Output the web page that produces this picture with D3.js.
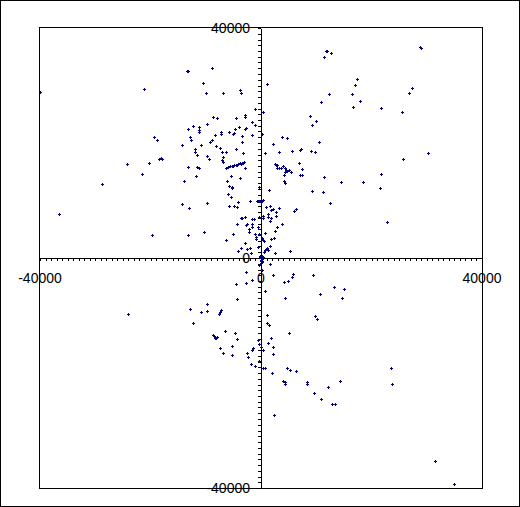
<!DOCTYPE html>
<html>
<head>
<meta charset="utf-8">
<script src="https://cdn.jsdelivr.net/npm/d3@7"></script>
<style>
  html, body { margin: 0; padding: 0; background: #fff; }
  svg { display: block; }
  text { font-family: Arial, "Liberation Sans", sans-serif; font-size: 14px; fill: #000; }
</style>
</head>
<body>
<svg id="chart" width="520" height="507"></svg>
<script>
// points, [x, y]
const upperLeft = [
  [-40000, 28870], [-13450, 32470], [-13210, 32570], [-8810, 32990], [-21120, 29340], [-10440, 30380],
  [-9900, 28640], [-6820, 28640], [-3750, 29160], [-3570, 28640], [-1030, 25910], [-2840, 24920],
  [-2840, 24470], [-8630, 24470], [-7910, 24290], [-4470, 24290], [-9720, 23250], [-1570, 23600],
  [-1030, 23180], [-13160, 22380], [-12250, 22900], [-11170, 22730], [-11170, 22260], [-11170, 21860],
  [-4650, 22380], [-3930, 22730], [-2660, 22550], [-2840, 22380], [-7190, 21860], [-7190, 21510],
  [-5740, 21860], [-4830, 21690], [-5010, 21510], [-3380, 21160], [-1570, 21340], [-8270, 21340],
  [-19310, 20990], [-18770, 20470], [-12800, 20990], [-12620, 20470], [-8810, 20470], [-9180, 20120],
  [-3380, 20120], [-14240, 19600], [-10810, 19600], [-8090, 19420], [-7370, 19080], [-11890, 18900],
  [-11890, 18380], [-4470, 18900], [-7000, 18380], [-6280, 18380], [-3200, 18210], [-11530, 17860],
  [-9720, 17690], [-9360, 17160], [-6820, 17510], [-7000, 16990], [-6820, 16640], [-18410, 17160],
  [-18050, 17340], [-17860, 17160], [-20220, 16470], [-24200, 16290],
  [-2840, 15600], [-13160, 15770], [-11530, 15770], [-11170, 15600], [-5380, 14210], [-3750, 13860],
  [-11710, 14210], [-21480, 14560], [-28720, 12820], [-13880, 13340], [-6100, 13340], [-5740, 12470],
  [-5190, 12290], [-5190, 12120], [-5920, 11080], [-5380, 10560], [-310, 12290], [-1940, 9860],
  [-4110, 9690], [-14240, 9340], [-12980, 8640], [-9720, 9510], [-5740, 8990], [-4830, 8990],
  [-4290, 8820], [-3570, 6900], [-3380, 6900], [-2840, 7080], [-1570, 6730], [-1210, 6730],
  [-1570, 5860], [-1570, 5340], [-2480, 5860], [-2660, 5690], [-4290, 5860], [-2120, 4990],
  [-2120, 4470], [-310, 7080], [-490, 5340], [-1030, 4120], [-310, 4120], [-850, 3600],
  [-850, 3250], [-5010, 4120], [-6280, 3080], [-19670, 3950], [-13160, 3950], [-10260, 4470],
  [-36510, 7600], [-2840, 2560], [-3570, 1690], [-4110, 1170], [-2480, 1510], [-1940, 1690],
  [-1760, 820], [-490, 1860], [-720, 9910], [-540, 9910], [-310, 9860], [-180, 9910]
];

// the dense diagonal streak left of the axis
const streak = [
  [-6280, 15600], [-5920, 15770], [-5560, 15950], [-5190, 16050], [-4830, 16120], [-4470, 16220],
  [-4110, 16350], [-3750, 16470], [-3380, 16570], [-3020, 16640], [-3200, 16470], [-3570, 16400],
  [-4290, 16170], [-5010, 16000]
];

const upperRight = [
  [28830, 36640], [29010, 36470], [11820, 35940], [12000, 35940], [12720, 35600], [11460, 34900],
  [1140, 30210], [17430, 31080], [17070, 30030], [27390, 29510], [26840, 28640], [12360, 28470],
  [16530, 28470], [17970, 27250], [10910, 27080], [16710, 26210], [21770, 26030], [25580, 25340],
  [420, 25340], [8920, 24640], [10010, 23770], [9290, 23080], [240, 21510], [3860, 20990],
  [4760, 20820], [2230, 19770], [10550, 20120], [780, 18210], [3310, 18380], [5670, 18560],
  [7110, 18730], [7290, 18900], [9100, 18560], [9830, 18380], [30280, 18210], [25760, 17160],
  [2590, 16290], [2770, 16120], [2950, 16120], [2950, 15600], [3310, 15600], [3670, 15600],
  [4040, 15950], [4400, 15600], [4580, 15250], [4760, 15080], [5120, 15250], [5480, 14900],
  [4400, 14900], [6930, 16470], [7480, 15420], [7110, 14380], [7480, 14380], [4220, 14380],
  [4220, 13340], [4400, 12990], [11460, 14030], [21770, 14560], [14530, 13160], [18520, 13160],
  [21590, 12120], [1500, 11770], [9290, 11600], [11280, 11430], [12540, 9510], [420, 10030],
  [240, 9860], [50, 9690], [960, 8820], [1680, 8990], [1860, 8300], [2230, 8470],
  [3310, 8640], [2770, 7950], [6390, 8470], [6030, 8120], [420, 7250], [420, 6900],
  [1320, 7600], [1320, 7080], [1860, 6900], [2770, 7250], [1680, 6380], [3860, 5860],
  [2950, 5340], [22860, 6210], [2590, 4640], [780, 4300], [240, 3430], [420, 3080],
  [600, 2900], [1860, 3250], [2410, 3430], [1680, 2030], [960, 1510], [1140, 1690],
  [1320, 1340], [780, 1340], [5300, 1170], [2590, 820], [600, 990], [240, 300]
];

const lowerHalf = [
  [50, -300], [240, -470], [-130, -990], [-310, -1170], [1680, -1100], [240, -2140],
  [-2660, -2490], [2230, -3010], [5850, -2830], [5670, -3360], [9470, -3010], [4940, -4050],
  [4220, -4230], [-1570, -3880], [-2660, -4400], [-4470, -4570], [13270, -5100], [15080, -5440],
  [780, -5790], [10730, -6310], [4400, -7010], [14720, -7010], [-4290, -7180], [-9720, -8050],
  [-12800, -8920], [-10810, -9440], [-9720, -9270], [-7190, -9100], [-7370, -9440], [-7550, -9790],
  [-24020, -9790], [-12250, -11360], [1140, -9960], [9720, -10140], [10190, -10660], [1140, -11360],
  [1500, -11700], [-6460, -12750], [-4650, -13090], [5120, -13090], [-8630, -13440], [-8450, -13620],
  [-8270, -13790], [-8090, -13960], [-7910, -13790], [-8270, -13960], [-4290, -14140], [-490, -14310],
  [1860, -13960], [1320, -14830], [-310, -15010], [-7370, -15700], [-5190, -15360], [2230, -15530],
  [-1390, -15700], [-1570, -16050], [50, -15530], [420, -16050], [-6820, -16570], [-5190, -16920],
  [-2480, -16570], [-2300, -17270], [2230, -16750], [-310, -17960], [-1760, -18490], [-1030, -18830],
  [420, -19180], [780, -19180], [4760, -19180], [5300, -19530], [6390, -19700], [23580, -19180],
  [2050, -20050], [4040, -21440], [4400, -21620], [4400, -21960], [8380, -21620], [8380, -21960],
  [14350, -21440], [23770, -21960], [12180, -22490], [9650, -23530], [10910, -24570], [12910, -25440],
  [13450, -25440], [2410, -27350], [31550, -35350], [34990, -39350]
];

const nearOrigin = [
  [0, 0], [180, -170], [-180, 170], [0, -520], [180, -700], [-180, 350], [350, 170]
];

const xLabels = [-40000, 0, 40000];
const yLabels = [40000, 0, -40000];

const svg = d3.select('#chart');
const W = 520;
const H = 507;
const plotLeft = 40;
const plotRight = 482;
const plotTop = 28;
const plotBottom = 488;

const x = d3.scaleLinear().domain([-40000, 40000]).range([plotLeft, plotRight]);
const y = d3.scaleLinear().domain([-40000, 40000]).range([plotBottom, plotTop]);
// rounded copies so the small ticks stay crisp
const xr = x.copy().interpolate(d3.interpolateRound);
const yr = y.copy().interpolate(d3.interpolateRound);

// outer frame
svg.append('rect')
    .attr('x', 0.5).attr('y', 0.5)
    .attr('width', W - 1).attr('height', H - 1)
    .attr('fill', '#fff').attr('stroke', '#000');

// plot box
svg.append('rect')
    .attr('x', plotLeft - 0.5).attr('y', plotTop - 0.5)
    .attr('width', plotRight - plotLeft + 1).attr('height', plotBottom - plotTop + 1)
    .attr('fill', 'none').attr('stroke', '#000')
    .attr('shape-rendering', 'crispEdges');

const ticks = d3.range(-40000, 40001, 1000);

svg.append('g')
    .attr('transform', `translate(0,${yr(0)})`)
    .attr('shape-rendering', 'crispEdges')
    .call(d3.axisBottom(xr).tickValues(ticks).tickSize(3).tickSizeOuter(0).tickFormat(''))
    .call((g) => g.selectAll('path, line').attr('stroke', '#000'));

svg.append('g')
    .attr('transform', `translate(${xr(0)},0)`)
    .attr('shape-rendering', 'crispEdges')
    .call(d3.axisLeft(yr).tickValues(ticks).tickSize(3).tickSizeOuter(0).tickFormat(''))
    .call((g) => g.selectAll('path, line').attr('stroke', '#000'));

// labels
svg.append('g').selectAll('text')
    .data(xLabels)
    .join('text')
    .attr('x', (d) => x(d))
    .attr('y', y(0) + 25)
    .attr('text-anchor', 'middle')
    .text((d) => d);

svg.append('g').selectAll('text')
    .data(yLabels)
    .join('text')
    .attr('x', x(0) - 11)
    .attr('y', (d) => y(d) + 5)
    .attr('text-anchor', 'end')
    .text((d) => d);

// points as small plus marks
const all = [].concat(upperLeft, streak, upperRight, lowerHalf, nearOrigin);
svg.append('g')
    .selectAll('path')
    .data(all)
    .join('path')
    .attr('d', (d) => {
      const px = Math.round(x(d[0]));
      const py = Math.round(y(d[1]));
      return `M${px - 1},${py + 0.5}h3M${px + 0.5},${py - 1}v3`;
    })
    .attr('fill', 'none')
    .attr('stroke', '#000080')
    .attr('shape-rendering', 'crispEdges');
</script>
</body>
</html>
